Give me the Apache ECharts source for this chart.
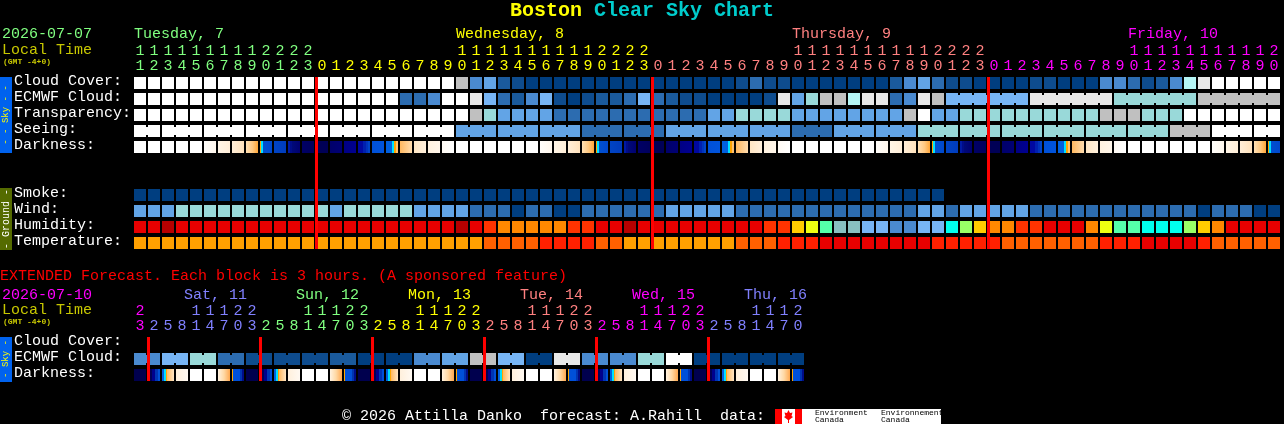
<!DOCTYPE html>
<html>
<head>
<meta charset="utf-8">
<style>html,body{margin:0;padding:0;background:#000;overflow:hidden}#c{width:1284px;height:424px}</style>
<script src="https://cdn.jsdelivr.net/npm/echarts@6/dist/echarts.min.js"></script>
</head>
<body>
<div id="c"></div>
<script>
// ---------- data ----------
const hours = [11,12,13,14,15,16,17,18,19,20,21,22,23,
  0,1,2,3,4,5,6,7,8,9,10,11,12,13,14,15,16,17,18,19,20,21,22,23,
  0,1,2,3,4,5,6,7,8,9,10,11,12,13,14,15,16,17,18,19,20,21,22,23,
  0,1,2,3,4,5,6,7,8,9,10,11,12,13,14,15,16,17,18,19,20];
const hourDay = [0,0,0,0,0,0,0,0,0,0,0,0,0,
  1,1,1,1,1,1,1,1,1,1,1,1,1,1,1,1,1,1,1,1,1,1,1,1,
  2,2,2,2,2,2,2,2,2,2,2,2,2,2,2,2,2,2,2,2,2,2,2,2,
  3,3,3,3,3,3,3,3,3,3,3,3,3,3,3,3,3,3,3,3,3];
const extHours = [23,
  2,5,8,11,14,17,20,23, 2,5,8,11,14,17,20,23, 2,5,8,11,14,17,20,23,
  2,5,8,11,14,17,20,23, 2,5,8,11,14,17,20,23, 2,5,8,11,14,17,20];
const extHourDay = [3,
  4,4,4,4,4,4,4,4, 0,0,0,0,0,0,0,0, 1,1,1,1,1,1,1,1,
  2,2,2,2,2,2,2,2, 3,3,3,3,3,3,3,3, 4,4,4,4,4,4,4];
const rowNames = ['Cloud Cover:','ECMWF Cloud:','Transparency:','Seeing:','Darkness:','','','Smoke:','Wind:','Humidity:','Temperature:'];
const extRowNames = ['Cloud Cover:','ECMWF Cloud:','Darkness:'];
const midnights = [13,37,61];
const extMidnights = [1,9,17,25,33,41];

const cloudCover = [11,11,11,11,11,11,11,11,11,11, 11,11,11,11,11,11,11,11,11,11,
  11,11,11,9,4,5,2,1,0,0, 0,0,0,0,0,0,0,0,0,0,
  0,0,0,1,3,1,1,0,0,0, 0,0,0,0,2,4,5,3,1,1,
  0,0,0,0,1,1,0,0,0,4, 4,3,1,2,4,8,10,11,11,11, 11,11];
const ecmwfCloud = [11,11,11,11,11,11,11,11,11,11, 11,11,11,11,11,11,11,11,11,3,
  3,4,11,11,10,6,3,2,4,6, 1,0,1,2,2,3,6,3,2,1,
  1,0,0,0,0,1,10,5,7,9, 9,8,10,10,3,4,10,9,6,6,
  6,6,6,6,10,10,10,10,10,10, 7,7,7,7,7,7,9,9,9,9, 9,9];
const transparency = [11,11,11,11,11,11,11,11,11,11, 11,11,11,11,11,11,11,11,11,11,
  11,11,11,11,9,7,5,5,5,5, 3,3,3,3,3,3,3,3,3,3,
  3,5,5,7,7,7,7,5,5,5, 5,5,5,5,5,9,11,5,5,7,
  7,7,7,7,7,7,7,7,7,9, 9,9,7,7,7,11,11,11,11,11, 11,11];
const seeing = [11,11,11,11,11,11,11,11,11,11, 11,11,11,11,11,11,11,11,11,11,
  11,11,11,5,5,5,5,5,5,5, 5,5,3,3,3,3,3,3,5,5,
  5,5,5,5,5,5,5,3,3,3, 5,5,5,5,5,5,7,7,7,7,
  7,7,7,7,7,7,7,7,7,7, 7,7,7,7,9,9,9,11,11,11, 11,11];
const darkness = [0,0,0,0,0,1,2,3,4,5,6,7,8,9,10,11,12,13,14,15,16,17,18,
  0,0,0,0,0,0,1,2,3,4,5,6,7,8,9,10,11,12,13,14,15,16,17,18,
  0,0,0,0,0,0,1,2,3,4,5,6,7,8,9,10,11,12,13,14,15,16,17,18,
  0,0,0,0,0,0,1,2,3,4,5];
const smoke = [0,0,0,0,0,0,0,0,0,0, 0,0,0,0,0,0,0,0,0,0,
  0,0,0,0,0,0,0,0,0,0, 0,0,0,0,0,0,0,0,0,0,
  0,0,0,0,0,0,0,0,0,0, 0,0,0,0,0,0,0,0];
const wind = [5,5,5,7,7,7,7,7,7,7, 7,7,7,7,5,7,7,7,7,7,
  5,5,5,5,3,3,3,0,3,3, 0,0,3,3,3,3,3,3,5,5,
  5,5,5,3,3,3,3,3,3,3, 3,3,3,3,3,3,5,5,3,5,
  5,5,5,5,3,3,3,3,3,3, 3,3,3,3,3,3,0,3,3,3, 0,0];
const humidity = [13,13,12,13,13,13,13,13,13,13, 13,13,13,13,13,13,13,13,13,13,
  13,13,13,12,13,15,17,17,17,17, 17,15,15,13,13,12,13,13,13,13,
  13,13,13,13,13,15,15,19,20,23, 24,24,6,6,4,4,6,6,22,21,
  19,17,17,15,15,13,13,13,17,20, 23,23,22,22,22,21,19,17,13,13, 13,13];
const temperature = [18,18,18,18,18,18,18,18,18,18, 18,18,18,18,18,18,18,18,18,18,
  18,18,18,18,18,16,16,16,16,14, 14,14,14,16,16,18,18,18,18,18,
  18,18,18,16,16,16,14,14,14,13, 13,13,13,13,13,13,13,14,14,14,
  14,14,16,16,16,16,16,16,16,14, 14,14,13,13,13,13,14,16,16,16, 16,16];

const extEcmwf = [4,4,6,6,7,7,3,3,1,1,1,1,1,1,2,2,0,0,0,0,4,4,5,5,
  9,9,6,6,0,0,10,10,4,4,4,4,7,7,11,11,0,0,0,0,0,0,0,0];
const extDarkness = [0,1,2,3,4,5,6,7, 0,1,2,3,4,5,6,7, 0,1,2,3,4,5,6,7,
  0,1,2,3,4,5,6,7, 0,1,2,3,4,5,6,7, 0,1,2,3,4,5,6,7];

// ---------- styles ----------
const FONT = '"Liberation Mono","DejaVu Sans Mono",monospace';
const dayColors = ['#80ff80','#ffff00','#ff8080','#ff00ff','#8080ff'];
const palette = ['#003e80','#0e4c8e','#1a5a9c','#2c6cb0','#4a8ad0','#62a4e6','#77b5f5','#99d9d9','#b5f5f5','#c0c0c0','#e8e8e8','#ffffff',
  '#b80000','#e80000','#ff2000','#ff3300','#ff6000','#ff8800','#ffa000','#ffcc00','#eeff11','#99ff66','#00ffee','#55ffaa','#88c0c0'];
const hard = (list) => { const s=[]; list.forEach(([a,b,c1,c2])=>{s.push({offset:a,color:c1});s.push({offset:b,color:c2||c1});}); return s; };
const darkStops = [
  hard([[0,1,'#ffffff']]),
  hard([[0,1,'#fffdfa','#fff7ec']]),
  hard([[0,1,'#fff5e6','#ffeed8']]),
  hard([[0,1,'#ffeed8','#ffe2bc']]),
  hard([[0,.55,'#ffe0b4','#ffc880'],[.55,1,'#ffc880','#ffa638']]),
  hard([[0,.09,'#ffa500'],[.09,.26,'#00e0ff'],[.26,1,'#0050d0','#0048cc']]),
  hard([[0,1,'#0044c4','#003cbc']]),
  hard([[0,.16,'#001aa4'],[.16,.33,'#000c88'],[.33,1,'#000a78','#000070']]),
  hard([[0,1,'#000066','#00005c']]),
  hard([[0,1,'#000056','#000056']]),
  hard([[0,1,'#00006a','#000074']]),
  hard([[0,1,'#000084','#000090']]),
  hard([[0,.4,'#0008a0'],[.4,.66,'#0020b0'],[.66,.83,'#0034bc'],[.83,1,'#0044c8']]),
  hard([[0,1,'#0050d8','#0054dc']]),
  hard([[0,.5,'#0060e0'],[.5,.67,'#00e0ff'],[.67,.84,'#ffa500'],[.84,1,'#ffc070']]),
  hard([[0,1,'#ffb860','#ffdcae']]),
  hard([[0,1,'#ffe6c4','#fff0dc']]),
  hard([[0,1,'#fff2e0','#fff6ea']]),
  hard([[0,1,'#fffaf4','#ffffff']])
];
const extDarkStops = [
  hard([[0,1,'#00004e']]),
  hard([[0,.35,'#000056'],[.35,.58,'#00008c'],[.58,.82,'#0034b4'],[.82,1,'#0050d8']]),
  hard([[0,.16,'#0060e0'],[.16,.33,'#00e0ff'],[.33,.42,'#ffa500'],[.42,1,'#ffb860','#ffe6c4']]),
  hard([[0,1,'#fff0dc','#fff9f2']]),
  hard([[0,1,'#ffffff']]),
  hard([[0,1,'#ffffff']]),
  hard([[0,.5,'#fff2e0','#ffd8a4'],[.5,1,'#ffd8a4','#ffa850']]),
  hard([[0,.1,'#ffa500'],[.1,.65,'#0050d8'],[.65,.84,'#0034b0'],[.84,1,'#000c88']])
];

// ---------- helpers ----------
const tens = h => h >= 10 ? String(Math.floor(h / 10)) : '';
const ones = h => String(h % 10);
function hourAxis(gridIndex, list, dayList, fn, offset) {
  return {
    type:'category', gridIndex, position:'top', offset, boundaryGap:true,
    data:list.map((h,i)=>({value:fn(h)+'', textStyle:{color:dayColors[dayList[i]]}})),
    axisLine:{show:false}, axisTick:{show:false}, splitLine:{show:false},
    axisLabel:{show:true, interval:0, margin:1, padding:[0,2,0,0], fontFamily:FONT, fontSize:15, hideOverlap:false}
  };
}
function rowAxis(gridIndex, names) {
  return {
    type:'category', gridIndex, inverse:true, data:names,
    axisLine:{show:false}, axisTick:{show:false}, splitLine:{show:false},
    axisLabel:{show:true, interval:0, align:'left', verticalAlign:'bottom', lineHeight:4, margin:120, color:'#fff', fontFamily:FONT, fontSize:15}
  };
}
function cells(arr, row, linkFn) {
  return arr.map((v,c)=>[c,row,v,(linkFn && c+1<arr.length && arr[c+1]===v && linkFn(c))?1:0]);
}
function renderCell(params, api) {
  const p = api.coord([api.value(0), api.value(1)]);
  const s = api.size([1,1]);
  const x = p[0]-s[0]/2, y = p[1]-s[1]/2;
  const children = [{type:'rect', shape:{x, y:y+2, width:s[0]-2, height:s[1]-4}, style:{fill:palette[api.value(2)]}}];
  if (api.value(3)) children.push({type:'rect', shape:{x:x+s[0]-2, y:y+4, width:2, height:s[1]-8}, style:{fill:palette[api.value(2)]}});
  return {type:'group', children};
}
function renderDark(stops) {
  return function(params, api) {
    const p = api.coord([api.value(0), api.value(1)]);
    const s = api.size([1,1]);
    return {type:'rect', shape:{x:p[0]-s[0]/2, y:p[1]-s[1]/2+2, width:s[0]-2, height:s[1]-4},
      style:{fill:new echarts.graphic.LinearGradient(0,0,1,0,stops[api.value(2)])}};
  };
}
function renderMidnight(lastRow) {
  return function(params, api) {
    const a = api.coord([api.value(0), 0]);
    const b = api.coord([api.value(0), lastRow]);
    const s = api.size([1,1]);
    return {type:'rect', z2:50, shape:{x:a[0]-s[0]/2-1, y:a[1]-s[1]/2+2, width:3, height:b[1]-a[1]+s[1]-4}, style:{fill:'#ff0000'}};
  };
}
const custom = (xi, yi, data, renderItem, z) => ({type:'custom', xAxisIndex:xi, yAxisIndex:yi, data, renderItem, z:z||2, clip:false, silent:true, animation:false,
  encode:{x:0,y:1}});
const txt = (text,x,y,fill,size,extra) => Object.assign({type:'text', x, y, silent:true,
  style:{text, fill, font:(extra&&extra.bold?'bold ':'')+size+'px '+FONT, textVerticalAlign:'middle', textAlign:'left'}}, extra&&extra.el||{});
const vtxt = (text,cy,fill,size) => ({type:'text', x:6, y:cy, rotation:Math.PI/2, silent:true,
  style:{text, fill, font:size+'px '+FONT, textAlign:'center', textVerticalAlign:'middle'}});
const box = (x,y,w,h,fill) => ({type:'rect', silent:true, shape:{x,y,width:w,height:h}, style:{fill}});

const chart = echarts.init(document.getElementById('c'), null, {renderer:'canvas'});
chart.setOption({
  backgroundColor:'#000', animation:false,
  grid:[
    {left:134, top:75, width:82*14, height:11*16},
    {left:134, top:335, width:48*14, height:3*16}
  ],
  xAxis:[
    hourAxis(0, hours, hourDay, ones, 0),
    hourAxis(0, hours, hourDay, tens, 15),
    hourAxis(1, extHours, extHourDay, ones, 0),
    hourAxis(1, extHours, extHourDay, tens, 15)
  ],
  yAxis:[rowAxis(0,rowNames), rowAxis(1,extRowNames)],
  series:[
    custom(0,0,cells(cloudCover,0),renderCell),
    custom(0,0,cells(ecmwfCloud,1,c=>c>=58),renderCell),
    custom(0,0,cells(transparency,2),renderCell),
    custom(0,0,cells(seeing,3,c=>c%3!==1),renderCell),
    custom(0,0,cells(darkness,4),renderDark(darkStops)),
    custom(0,0,cells(smoke,7),renderCell),
    custom(0,0,cells(wind,8),renderCell),
    custom(0,0,cells(humidity,9),renderCell),
    custom(0,0,cells(temperature,10),renderCell),
    custom(0,0,midnights.map(c=>[c]),renderMidnight(10),5),
    custom(2,1,cells(extEcmwf,1,c=>c%2===0),renderCell),
    custom(2,1,cells(extDarkness,2),renderDark(extDarkStops)),
    custom(2,1,extMidnights.map(c=>[c]),renderMidnight(2),5)
  ],
  graphic:{elements:[
    txt('Boston',510,11,'#ffff00',20,{bold:true}),
    txt('Clear Sky Chart',594,11,'#00cccc',20,{bold:true}),
    txt('2026-07-07',2,34,'#80ff80',15),
    txt('Local Time',2,50,'#c8c800',15),
    txt('(GMT -4+0)',3,62,'#c8c800',8,{bold:true}),
    txt('Tuesday, 7',134,34,'#80ff80',15),
    txt('Wednesday, 8',456,34,'#ffff00',15),
    txt('Thursday, 9',792,34,'#ff8080',15),
    txt('Friday, 10',1128,34,'#ff00ff',15),
    box(0,77,12,76,'#0062ee'), vtxt('- - Sky - -',115,'#ffff00',9),
    box(0,188,12,62,'#556b00'), vtxt('- Ground -',219,'#ffffff',10),
    txt('EXTENDED Forecast. Each block is 3 hours. (A sponsored feature)',0,276,'#ff0000',15),
    txt('2026-07-10',2,295,'#ff00ff',15),
    txt('Local Time',2,310,'#c8c800',15),
    txt('(GMT -4+0)',3,322,'#c8c800',8,{bold:true}),
    txt('Sat, 11',184,295,'#8080ff',15),
    txt('Sun, 12',296,295,'#80ff80',15),
    txt('Mon, 13',408,295,'#ffff00',15),
    txt('Tue, 14',520,295,'#ff8080',15),
    txt('Wed, 15',632,295,'#ff00ff',15),
    txt('Thu, 16',744,295,'#8080ff',15),
    box(0,337,12,45,'#0062ee'), vtxt('- Sky -',359,'#ffff00',9),
    txt('© 2026 Attilla Danko  forecast: A.Rahill  data:',342,416,'#ffffff',15),
    box(775,409,166,15,'#ffffff'),
    box(775,409,7,15,'#ff0000'), box(795,409,7,15,'#ff0000'),
    {type:'polygon', silent:true, shape:{points:[[788.5,410],[790,413],[792.5,412.5],[791.5,416],[793,417],[789,420],[789,423],[788,423],[788,420],[784,417],[785.5,416],[784.5,412.5],[787,413]]}, style:{fill:'#ff0000'}},
    txt('Environment',815,413,'#000000',8),
    txt('Canada',815,420,'#000000',8),
    txt('Environnement',881,413,'#000000',8),
    txt('Canada',881,420,'#000000',8)
  ]}
});
</script>
</body>
</html>
